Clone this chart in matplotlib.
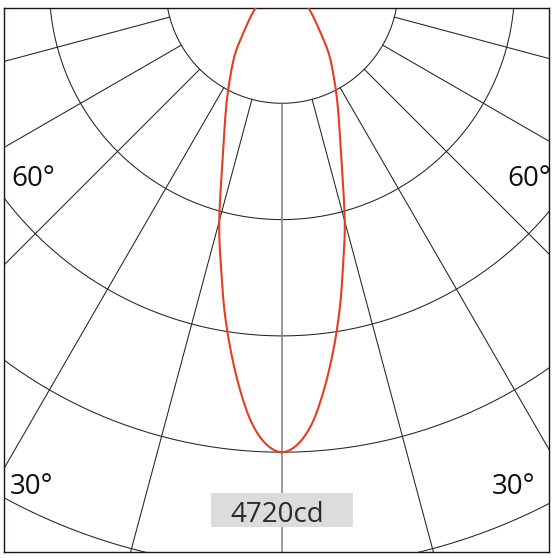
import numpy as np
import matplotlib
matplotlib.use("Agg")
import matplotlib.pyplot as plt
from matplotlib.patches import Rectangle

# ---- data (angle from nadir in degrees, luminous intensity in cd) ----
angles_deg = [0, 2, 4, 6, 8, 10, 12, 15, 20, 25, 30, 35, 40, 50, 60, 70, 80, 90]
intensity_cd = [4720, 4640, 4430, 4100, 3730, 3350, 2960, 2460, 1740, 1340, 1050, 830, 612, 370, 200, 100, 40, 0]
ring_values = [1180, 2360, 3540, 4720, 5900, 7080]
radial_angles = [15, 30, 45, 60, 75, 90]
angle_labels = ["60°", "30°"]
max_label = "4720cd"

plt.rcParams['font.family'] = ['Open Sans', 'DejaVu Sans']

W, H = 559, 558
fig = plt.figure(figsize=(W / 100, H / 100), dpi=100)
# axes box in pixels: x 4..549, y 8..552
ax = fig.add_axes([4 / W, 1 - 552 / H, 545 / W, 544 / H])

k = ring_values[0] / 116.3   # cd per pixel
cx, cy = 282, -13             # pole position in pixels
ax.set_xlim((4 - cx) * k, (549 - cx) * k)
ax.set_ylim(-(552 - cy) * k, -(8 - cy) * k)
ax.set_xticks([]); ax.set_yticks([])
for s in ax.spines.values():
    s.set_color('#1a1212'); s.set_linewidth(1.0)

# rings
t = np.linspace(0, 2 * np.pi, 721)
for r in ring_values:
    ax.plot(r * np.sin(t), -r * np.cos(t), color='#222222', lw=0.75, zorder=1)

# radial lines starting from first ring
r0, r1 = ring_values[0], ring_values[-1]
for a in radial_angles:
    th = np.radians(a)
    for sgn in (-1, 1):
        ax.plot([sgn * r0 * np.sin(th), sgn * r1 * np.sin(th)],
                [-r0 * np.cos(th), -r1 * np.cos(th)], color='#222222', lw=0.75, zorder=1)
# central axis
ax.plot([0, 0], [-r0, -r1], color='#8a8a8a', lw=1.2, zorder=1)

# intensity curve (symmetric), smoothed with Catmull-Rom spline
a = np.array(angles_deg, dtype=float)
I = np.array(intensity_cd, dtype=float)
aa = np.concatenate([-a[::-1], a[1:]])
II = np.concatenate([I[::-1], I[1:]])
th = np.radians(aa)
px = II * np.sin(th)
py = -II * np.cos(th)

def catmull_rom(x, y, n=20):
    P = np.column_stack([x, y])
    P = np.vstack([P[0], P, P[-1]])
    out = []
    for i in range(1, len(P) - 2):
        p0, p1, p2, p3 = P[i - 1], P[i], P[i + 1], P[i + 2]
        for s in np.linspace(0, 1, n, endpoint=False):
            s2, s3 = s * s, s * s * s
            out.append(0.5 * ((2 * p1) + (-p0 + p2) * s + (2 * p0 - 5 * p1 + 4 * p2 - p3) * s2
                              + (-p0 + 3 * p1 - 3 * p2 + p3) * s3))
    out.append(P[-2])
    out = np.array(out)
    return out[:, 0], out[:, 1]

sx, sy = catmull_rom(px, py)
ax.plot(sx, sy, color='#e43d24', lw=1.5, zorder=3)

# angle labels
fs = 20
ax.text(0.0128, 0.673, angle_labels[0], transform=ax.transAxes, fontsize=fs, color='#111111',
        ha='left', va='baseline', clip_on=True)
ax.text(0.923, 0.673, angle_labels[0], transform=ax.transAxes, fontsize=fs, color='#111111',
        ha='left', va='baseline', clip_on=True)
ax.text(0.011, 0.1066, angle_labels[1], transform=ax.transAxes, fontsize=fs, color='#111111',
        ha='left', va='baseline', clip_on=True)
ax.text(0.895, 0.1066, angle_labels[1], transform=ax.transAxes, fontsize=fs, color='#111111',
        ha='left', va='baseline', clip_on=True)

# max label box
ax.add_patch(Rectangle((207 / 545, 25 / 544), 142 / 545, 34 / 544, transform=ax.transAxes,
                       facecolor='#dcdcdc', edgecolor='none', zorder=4))
ax.text((277.5 - 4) / 545, 0.055, max_label, transform=ax.transAxes, fontsize=fs,
        color='#2a2a2a', ha='center', va='baseline', zorder=5)

fig.savefig('out.png', dpi=100)
